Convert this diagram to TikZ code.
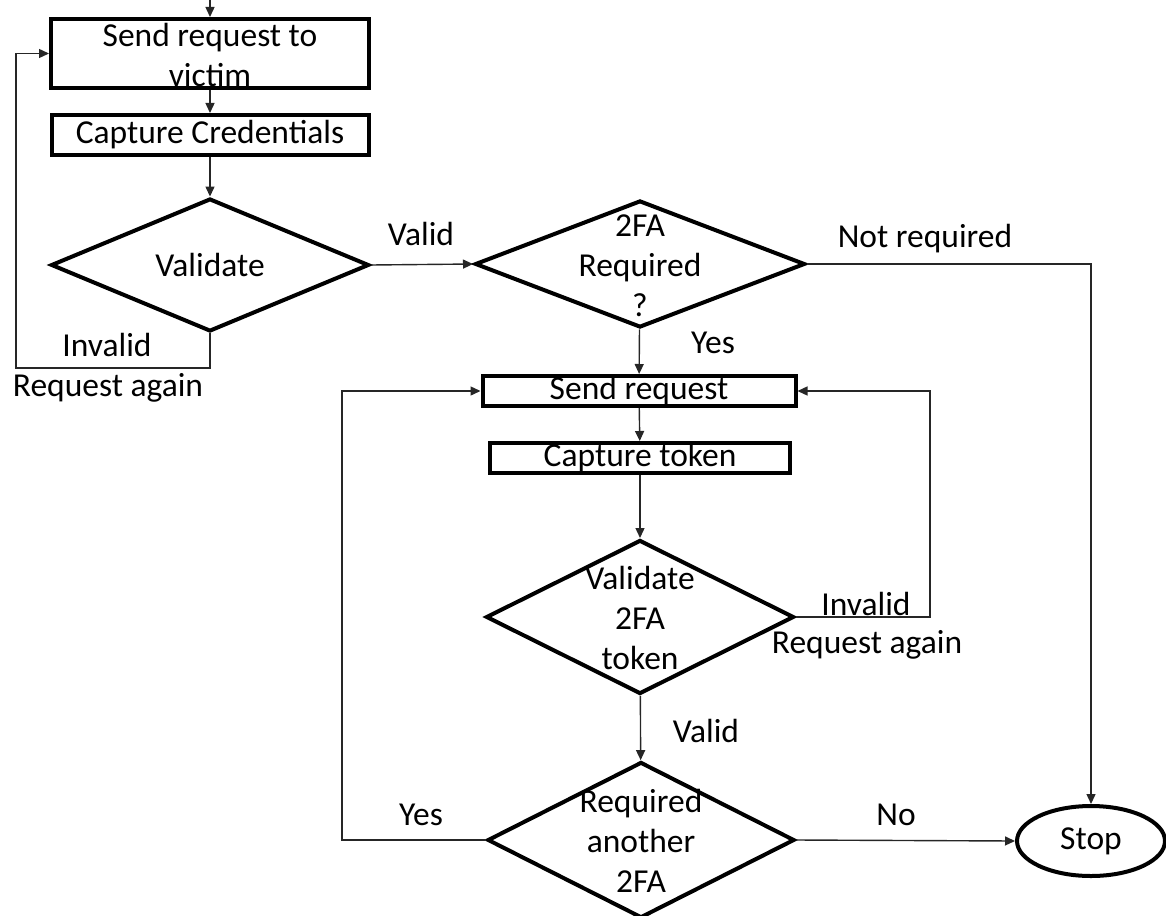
\documentclass[tikz,border=0pt]{standalone}
\usepackage{fontspec}
\setmainfont{Carlito}
\usepackage{tikz}
\usetikzlibrary{shapes.geometric}
\usetikzlibrary{arrows.meta}
\tikzset{
  every node/.style = {black, font=\fontsize{33.5}{40}\selectfont, inner sep=0pt},
  procbox/.style = {rectangle, draw=black, line width=4pt},
  decision/.style = {diamond, draw=black, line width=4pt},
  terminal/.style = {ellipse, draw=black, line width=4pt},
  lbl/.style = {anchor=base},
}
\newcommand{\dtext}[1]{\smash{\raisebox{-11pt}{\begin{tabular}{@{}c@{}}#1\end{tabular}}}}

\begin{document}
\begin{tikzpicture}[x=1pt,y=-1pt,->,>={Triangle[length=10pt,width=9pt]},
  line width=1.4pt,draw=black!85]
  \useasboundingbox (0,0) rectangle (1166,915);

  % first stage
  \node[procbox, minimum width=318, minimum height=69] (sendvictim) at (210,53.5)
    {\dtext{Send request to\\victim}};
  \node[procbox, minimum width=317, minimum height=40] (capcred) at (210,135)
    {Capture Credentials};
  \node[decision, minimum width=318, minimum height=127] (validate) at (210,265)
    {Validate};
  \node[decision, minimum width=330, minimum height=127] (twofa) at (640,264)
    {\dtext{2FA\\Required\\?}};

  % second stage
  \node[procbox, minimum width=313, minimum height=30] (sendreq) at (639,391)
    {Send request};
  \node[procbox, minimum width=300, minimum height=30] (captoken) at (640,458)
    {Capture token};
  \node[decision, minimum width=308, minimum height=154] (val2fa) at (640,617)
    {\dtext{Validate\\2FA\\token}};
  \node[decision, minimum width=307, minimum height=156] (another) at (641,840)
    {\dtext{Required\\another\\2FA}};
  \node[terminal, minimum width=148, minimum height=70] (stop) at (1091,841)
    {Stop};

  % labels
  \node[lbl] (validlbl) at (421,245) {Valid};
  \node[lbl] (invalidlbl) at (107,356) {Invalid};
  \node[lbl] (againlbl) at (108,396) {Request again};
  \node[lbl] (notreqlbl) at (925,247) {Not required};
  \node[lbl] (yeslbl) at (713,353) {Yes};
  \node[lbl] (invalid2lbl) at (866,615) {Invalid};
  \node[lbl] (again2lbl) at (867,653) {Request again};
  \node[lbl] (valid2lbl) at (706,742) {Valid};
  \node[lbl] (yes2lbl) at (421,825) {Yes};
  \node[lbl] (nolbl) at (896,825) {No};

  % bends
  \coordinate (entry) at (210,0);
  \coordinate (leftloop) at (16,368);
  \coordinate (rightloop) at (930,617);
  \coordinate (yesloop) at (342,840);

  \draw (entry) -- (sendvictim.north);
  \draw (sendvictim) -- (capcred);
  \draw (capcred) -- (validate);
  \draw (validate.east) -- (twofa.west);
  \draw (validate.south) |- (leftloop) |- (sendvictim.west);
  \draw (twofa) -- (sendreq);
  \draw (twofa.east) -| (stop.north);
  \draw (sendreq) -- (captoken);
  \draw (captoken) -- (val2fa);
  \draw (val2fa.east) -- (rightloop) |- (sendreq.east);
  \draw (val2fa) -- (another);
  \draw (another.west) -- (yesloop) |- (sendreq.west);
  \draw (another.east) -- (stop.west);
\end{tikzpicture}
\end{document}
